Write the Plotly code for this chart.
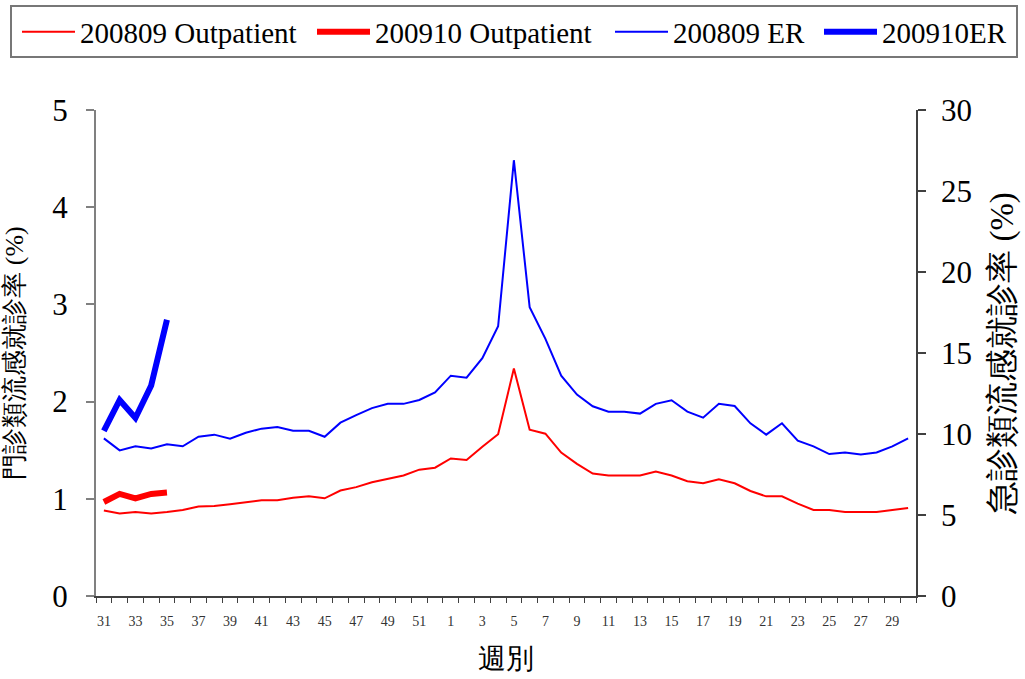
import plotly.graph_objects as go

weeks = [str(w) for w in list(range(31, 53)) + list(range(1, 31))]

outpatient_0809 = [0.88, 0.85, 0.865, 0.85, 0.865, 0.885, 0.92, 0.925, 0.945, 0.965,
                   0.985, 0.985, 1.01, 1.025, 1.005, 1.085, 1.12, 1.17, 1.205, 1.24,
                   1.30, 1.32, 1.415, 1.40, 1.535, 1.665, 2.34, 1.71, 1.67, 1.475,
                   1.36, 1.26, 1.24, 1.24, 1.24, 1.28, 1.24, 1.18, 1.16, 1.20,
                   1.16, 1.08, 1.025, 1.025, 0.95, 0.885, 0.885, 0.865, 0.865, 0.865,
                   0.885, 0.905]
outpatient_0910 = [0.967, 1.05, 1.005, 1.05, 1.064]

er_0809 = [9.73, 8.99, 9.24, 9.11, 9.36, 9.24, 9.83, 9.96, 9.71, 10.08,
           10.33, 10.43, 10.2, 10.2, 9.83, 10.7, 11.17, 11.6, 11.86, 11.86,
           12.1, 12.57, 13.6, 13.48, 14.68, 16.65, 26.9, 17.83, 15.87, 13.6,
           12.43, 11.71, 11.38, 11.38, 11.26, 11.86, 12.08, 11.38, 11.01, 11.86,
           11.73, 10.66, 9.96, 10.66, 9.59, 9.24, 8.76, 8.86, 8.74, 8.86,
           9.24, 9.73]
er_0910 = [10.2, 12.1, 10.99, 12.99, 17.05]

left_ticks = [0, 1, 2, 3, 4, 5]
right_ticks = [0, 5, 10, 15, 20, 25, 30]

serif = "Liberation Serif"

W, H = 1025, 679
ML, MR, MT, MB = 96, 109, 110, 83
PW, PH = W - ML - MR, H - MT - MB


def px_x(p):
    return (p - ML) / PW


def px_y(p):
    return (H - MB - p) / PH


xi = list(range(len(weeks)))

fig = go.Figure()
fig.add_trace(go.Scatter(x=xi, y=outpatient_0809, mode="lines", name="200809 Outpatient",
                         line=dict(color="#FF0000", width=2), yaxis="y", legend="legend"))
fig.add_trace(go.Scatter(x=xi[:len(outpatient_0910)], y=outpatient_0910, mode="lines",
                         name="200910 Outpatient", line=dict(color="#FF0000", width=6),
                         yaxis="y", legend="legend"))
fig.add_trace(go.Scatter(x=xi, y=er_0809, mode="lines", name="200809 ER",
                         line=dict(color="#0000FF", width=2), yaxis="y2", legend="legend2"))
fig.add_trace(go.Scatter(x=xi[:len(er_0910)], y=er_0910, mode="lines", name="200910ER",
                         line=dict(color="#0000FF", width=6), yaxis="y2", legend="legend2"))

leg_common = dict(orientation="h", yanchor="middle", y=px_y(32),
                  font=dict(family=serif, size=29, color="black"),
                  borderwidth=0, bgcolor="rgba(0,0,0,0)",
                  itemwidth=53, traceorder="normal", xanchor="left")

fig.update_layout(
    width=W, height=H,
    paper_bgcolor="white", plot_bgcolor="white",
    margin=dict(l=ML, r=MR, t=MT, b=MB, autoexpand=False),
    font=dict(family=serif, color="black"),
    showlegend=True,
    legend=dict(x=px_x(17), entrywidth=227, **leg_common),
    legend2=dict(x=px_x(610), entrywidth=141, **leg_common),
    shapes=[dict(type="rect", xref="paper", yref="paper",
                 x0=px_x(11), x1=px_x(1017), y0=px_y(57), y1=px_y(6),
                 line=dict(color="#777777", width=2), fillcolor="rgba(0,0,0,0)", layer="below")],
    xaxis=dict(
        range=[-0.5, len(weeks) - 0.5],
        tickmode="array",
        tickvals=xi[::2], ticktext=weeks[::2],
        ticks="", showgrid=False, zeroline=False, automargin=False,
        showline=True, linecolor="#404040", linewidth=1.5,
        tickfont=dict(family=serif, size=14, color="#333333"),
        ticklabelstandoff=11,
        minor=dict(tickmode="array", tickvals=[i - 0.5 for i in range(len(weeks) + 1)],
                   ticks="outside", ticklen=5, tickcolor="#404040", tickwidth=1, showgrid=False),
        title=dict(text="週別", font=dict(family=serif, size=28, color="black"), standoff=21),
    ),
    yaxis=dict(
        range=[0, 5], tickmode="array", tickvals=left_ticks,
        ticks="outside", ticklen=8, tickcolor="#808080", tickwidth=1.5,
        showline=True, linecolor="#808080", linewidth=2, automargin=False,
        showgrid=False, zeroline=False,
        tickfont=dict(family=serif, size=31, color="black"),
        ticklabelstandoff=12,
        title=dict(text="門診類流感就診率 (%)", font=dict(family=serif, size=26, color="black"), standoff=27),
    ),
    yaxis2=dict(
        range=[0, 30], tickmode="array", tickvals=right_ticks,
        overlaying="y", side="right", anchor="x", automargin=False,
        ticks="outside", ticklen=8, tickcolor="#404040", tickwidth=1.5,
        showline=True, linecolor="#404040", linewidth=1.5,
        showgrid=False, zeroline=False,
        tickfont=dict(family=serif, size=31, color="black"),
        ticklabelstandoff=9,
        title=dict(text="急診類流感就診率 (%)", font=dict(family=serif, size=33, color="black"), standoff=19),
    ),
)

fig.write_html("out.html", config={"displayModeBar": False},
               post_script="document.body.style.margin='0';")
